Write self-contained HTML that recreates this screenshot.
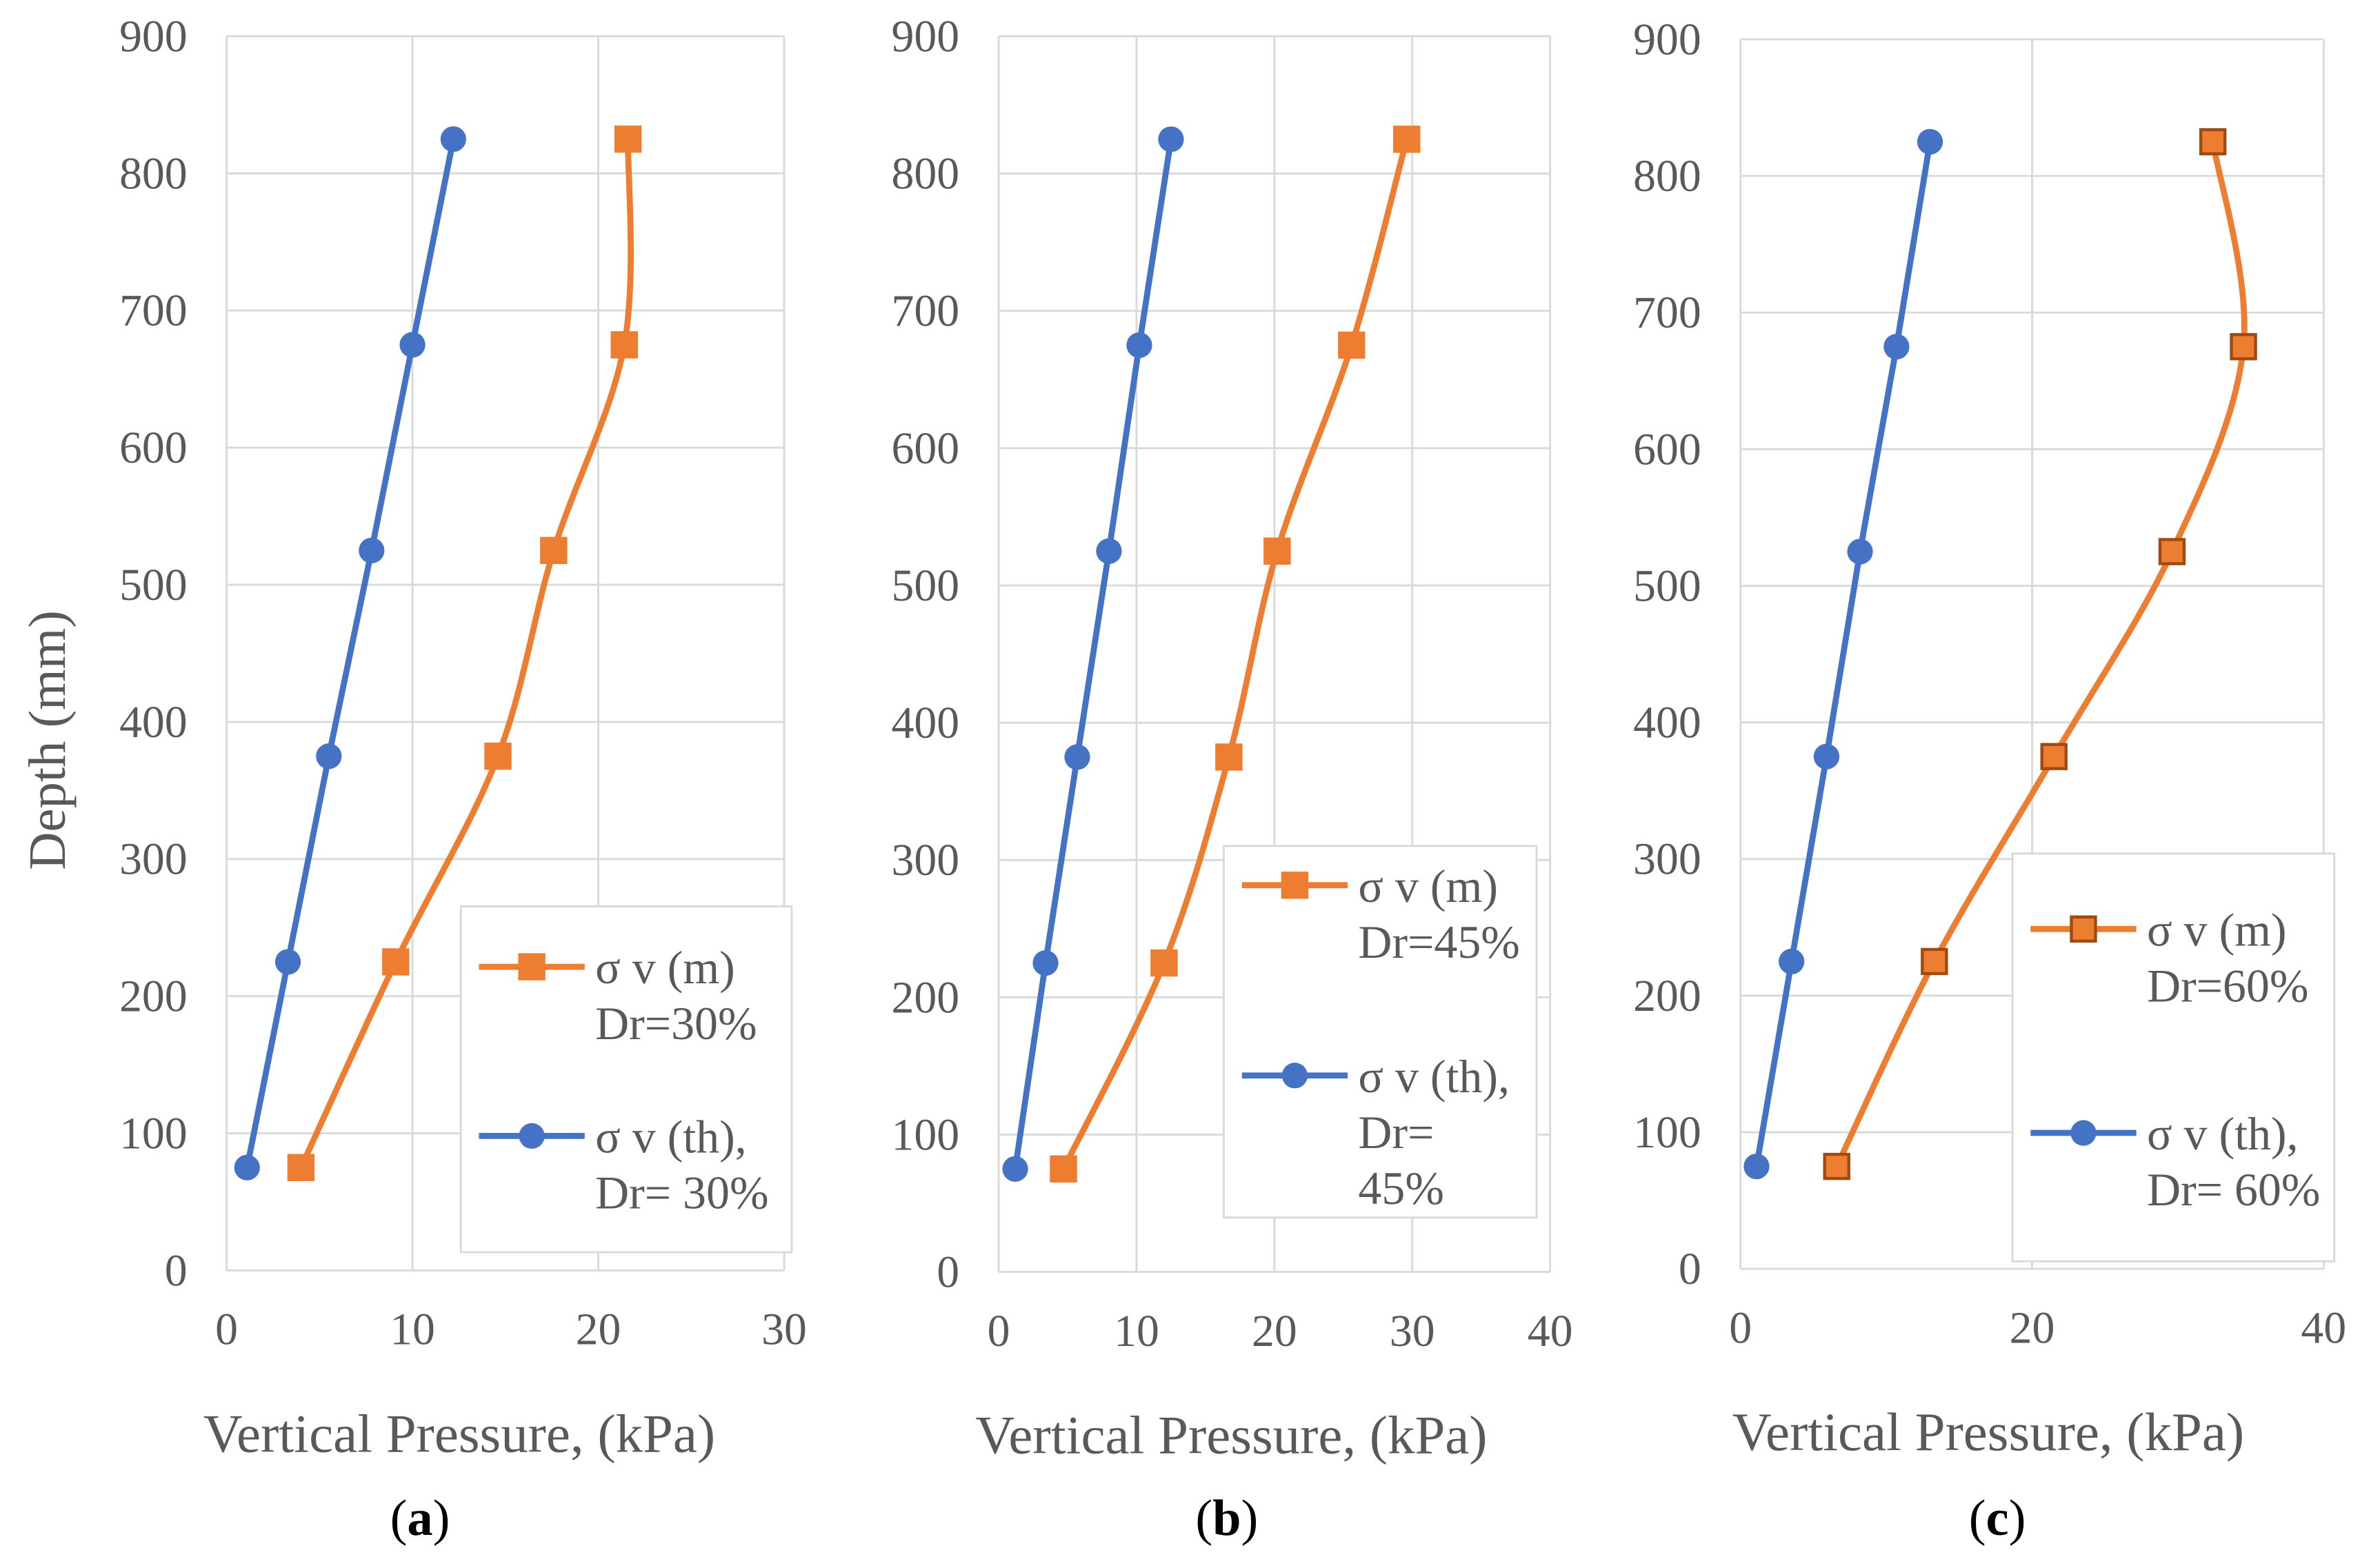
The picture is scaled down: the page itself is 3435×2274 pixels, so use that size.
<!DOCTYPE html>
<html><head><meta charset="utf-8"><style>
html,body{margin:0;padding:0;background:#fff;}
svg{display:block;}
text{font-family:"Liberation Serif",serif;}
</style></head><body>
<svg id="chart" width="3435" height="2274" viewBox="0 0 1568 1038" xmlns="http://www.w3.org/2000/svg"></svg>
<script>
const depths=[75,225,375,525,675,825];
const thA=[1.1,3.3,5.5,7.8,10.0,12.2];
const mA=[4.0,9.1,14.6,17.6,21.4,21.6];
const thB=[1.2,3.4,5.7,8.0,10.2,12.5];
const mB=[4.7,12.0,16.7,20.2,25.6,29.6];
const thC=[1.1,3.5,5.9,8.2,10.7,13.0];
const mC=[6.6,13.3,21.5,29.6,34.5,32.4];
const yTicks=[0,100,200,300,400,500,600,700,800,900];
const xTicksA=[0,10,20,30];
const xTicksB=[0,10,20,30,40];
const xTicksC=[0,20,40];
const legendA=["σ v (m)","Dr=30%","σ v (th),","Dr= 30%"];
const legendB=["σ v (m)","Dr=45%","σ v (th),","Dr=","45%"];
const legendC=["σ v (m)","Dr=60%","σ v (th),","Dr= 60%"];

const svg=document.getElementById('chart');
const NS="http://www.w3.org/2000/svg";
function mk(tag,attrs,parent){const e=document.createElementNS(NS,tag);for(const k in attrs)e.setAttribute(k,attrs[k]);(parent||svg).appendChild(e);return e;}
function smooth(pts){let d=`M${pts[0][0]},${pts[0][1]}`;for(let i=0;i<pts.length-1;i++){const p0=pts[Math.max(i-1,0)],p1=pts[i],p2=pts[i+1],p3=pts[Math.min(i+2,pts.length-1)];const t=1/6;d+=` C${p1[0]+(p2[0]-p0[0])*t},${p1[1]+(p2[1]-p0[1])*t} ${p2[0]-(p3[0]-p1[0])*t},${p2[1]-(p3[1]-p1[1])*t} ${p2[0]},${p2[1]}`;}return d;}

function panel(cfg){
 const g=mk('g',{});
 
 
 const X=v=>cfg.x0+(cfg.x1-cfg.x0)*v/cfg.xmax;
 const Y=v=>cfg.y0-(cfg.y0-cfg.y1)*v/900;
 yTicks.forEach(t=>{
  const l=mk('line',{x1:cfg.x0,x2:cfg.x1,y1:Y(t),y2:Y(t),stroke:'#d9d9d9','stroke-width':1.3},g);
  
  const tx=mk('text',{x:cfg.x0-26,y:Y(t)+10,'text-anchor':'end','font-size':30,fill:'#595959'},g);tx.textContent=t;
  
 });
 cfg.xt.forEach(t=>{
  const l=mk('line',{x1:X(t),x2:X(t),y1:cfg.y0,y2:cfg.y1,stroke:'#d9d9d9','stroke-width':1.3},g);
  
  const tx=mk('text',{x:X(t),y:cfg.y0+49,'text-anchor':'middle','font-size':30,fill:'#595959'},g);tx.textContent=t;
  
 });
 const xt=mk('text',{x:cfg.titleX,y:cfg.y0+120,'text-anchor':'middle','font-size':36,fill:'#595959'},g);xt.textContent='Vertical Pressure, (kPa)';
 
 const pl=mk('text',{x:cfg.labX,y:1016,'text-anchor':'middle','font-size':34,fill:'#000'},g);
 pl.innerHTML='(<tspan font-weight="bold">'+cfg.id+'</tspan>)';
 
 const bp=cfg.th.map((v,i)=>[X(v),Y(depths[i])]);
 const bl=mk('polyline',{points:bp.map(p=>p.join(',')).join(' '),fill:'none',stroke:'#4472C4','stroke-width':4},g);
 
 const op=cfg.m.map((v,i)=>[X(v),Y(depths[i])]);
 const ol=mk('path',{d:smooth(op),fill:'none',stroke:'#ED7D31','stroke-width':4},g);
 
 bp.forEach(p=>{const c=mk('circle',{cx:p[0],cy:p[1],r:8.5,fill:'#4472C4'},g);
  });
 op.forEach(p=>{const r=mk('rect',{x:p[0]-8,y:p[1]-8,width:16,height:16,fill:'#ED7D31',stroke:cfg.sq,'stroke-width':2},g);
  });
 const L=cfg.leg;
 const lg=mk('g',{},g);
 mk('rect',{x:L.x,y:L.y,width:L.w,height:L.h,fill:'#fff',stroke:'#d9d9d9','stroke-width':1.3},lg);
 const e1=mk('g',{},lg);
 mk('line',{x1:L.x+12,x2:L.x+82,y1:L.y+L.a,y2:L.y+L.a,stroke:'#ED7D31','stroke-width':4},e1);
 mk('rect',{x:L.x+39,y:L.y+L.a-8,width:16,height:16,fill:'#ED7D31',stroke:cfg.sq,'stroke-width':2},e1);
 let t=mk('text',{x:L.x+89,y:L.y+L.a+11,'font-size':31,fill:'#595959'},e1);t.textContent=cfg.lt[0];
 t=mk('text',{x:L.x+89,y:L.y+L.a+48,'font-size':31,fill:'#595959'},e1);t.textContent=cfg.lt[1];
 const e2=mk('g',{},lg);
 mk('line',{x1:L.x+12,x2:L.x+82,y1:L.y+L.b,y2:L.y+L.b,stroke:'#4472C4','stroke-width':4},e2);
 mk('circle',{cx:L.x+47,cy:L.y+L.b,r:8.5,fill:'#4472C4'},e2);
 for(let i=2;i<cfg.lt.length;i++){t=mk('text',{x:L.x+89,y:L.y+L.b+11+(i-2)*37,'font-size':31,fill:'#595959'},e2);t.textContent=cfg.lt[i];}
}
panel({id:'a',x0:150,x1:519,xmax:30,y0:841,y1:24,xt:xTicksA,th:thA,m:mA,sq:'#ED7D31',titleX:304,labX:278,lt:legendA,leg:{x:305,y:600,w:219,h:229,a:40,b:152}});
panel({id:'b',x0:661,x1:1026,xmax:40,y0:842,y1:24,xt:xTicksB,th:thB,m:mB,sq:'#ED7D31',titleX:815,labX:812,lt:legendB,leg:{x:810,y:560,w:207,h:246,a:26,b:152}});
panel({id:'c',x0:1152,x1:1538,xmax:40,y0:840,y1:26,xt:xTicksC,th:thC,m:mC,sq:'#9e4a12',titleX:1316,labX:1322,lt:legendC,leg:{x:1332,y:565,w:213,h:270,a:50,b:185}});
const yt=mk('text',{x:0,y:0,'text-anchor':'middle','font-size':35,fill:'#595959',transform:'translate(43,490) rotate(-90)'});
yt.textContent='Depth (mm)';


</script>
</body></html>
